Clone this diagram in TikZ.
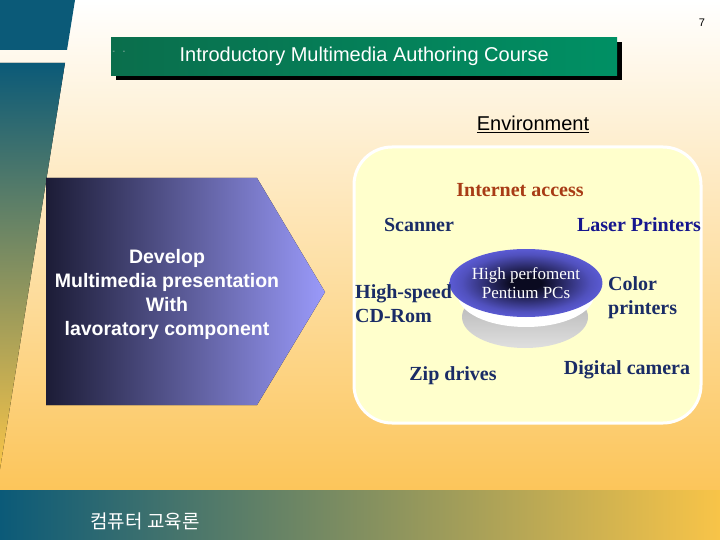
\documentclass[tikz,border=0pt]{standalone}
\usepackage{fontspec}
\setmainfont{Liberation Serif}
\setsansfont{Liberation Sans}
\newfontfamily\krfont{Noto Sans CJK KR}
\usepackage{tikz}
\usetikzlibrary{positioning,shapes.geometric}
\definecolor{tealdark}{HTML}{0B5A78}
\definecolor{goldbar}{HTML}{F8C448}
\definecolor{tanmid}{HTML}{A89A76}
\definecolor{stripmid}{HTML}{8A7D68}
\definecolor{peachbg}{HTML}{FDEAD6}
\definecolor{orangebg}{HTML}{FCC55A}
\definecolor{titlegreen}{HTML}{009064}
\definecolor{titlegreendk}{HTML}{0A6E4C}
\definecolor{panelyellow}{HTML}{FFFFCC}
\definecolor{navytext}{HTML}{1A2C66}
\definecolor{bluetext}{HTML}{16168E}
\definecolor{rusttext}{HTML}{A83C16}
\definecolor{arrowdark}{HTML}{1C1C36}
\definecolor{arrowlight}{HTML}{9A9AFA}
\definecolor{diskblue}{HTML}{6262E4}
\definecolor{diskdark}{HTML}{0A0A20}
\pgfdeclareradialshading{diskglow}{\pgfpoint{0bp}{0bp}}{color(0bp)=(diskdark); color(5bp)=(diskdark); color(13bp)=(diskblue!40!diskdark); color(21bp)=(diskblue!80!diskdark); color(28bp)=(diskblue); color(50bp)=(diskblue)}

\begin{document}
\begin{tikzpicture}[x=1pt, y=-1pt, every node/.style={inner sep=0pt, align=center},
  hwlabel/.style={font=\bfseries\fontsize{20}{24}\selectfont, text=navytext},
  titlebar/.style={left color=titlegreendk, right color=titlegreen, text=white, font=\sffamily\fontsize{20}{24}\selectfont},
  panelbox/.style={draw=white, line width=3pt, fill=panelyellow, rounded corners=38pt},
  pitchtext/.style={text=white, font=\sffamily\bfseries\fontsize{19.5}{24}\selectfont}]
  \useasboundingbox (0,0) rectangle (720,540);
  % background and side bars
  \fill[top color=white, middle color=peachbg, bottom color=orangebg] (0,0) rectangle (720,490);
  \fill[left color=tealdark, middle color=tanmid, right color=goldbar] (0,490) rectangle (720,540);
  \fill[tealdark] (0,0) -- (75,0) -- (67,50) -- (0,50) -- cycle;
  \fill[top color=tealdark, middle color=stripmid, bottom color=goldbar] (0,63) -- (65,63) -- (0,469) -- cycle;
  % title
  \fill[black] (116,42) rectangle (622,80);
  \node[titlebar, minimum width=506pt, minimum height=38pt, anchor=north west] (title) at (111,37) {Introductory Multimedia Authoring Course};
  \node[font=\sffamily\fontsize{7}{8}\selectfont, text=gray!40] (marks) at (119,52) {-\hspace{8pt}-};
  \node[font=\sffamily\fontsize{11}{12}\selectfont] (pagenum) at (702,23) {7};
  % environment panel
  \node[font=\sffamily\fontsize{20}{24}\selectfont, anchor=base] (env) at (533,131) {\underline{Environment}};
  \node[panelbox, minimum width=347pt, minimum height=276pt] (envpanel) at (527.5,285) {};
  \node[ellipse, top color=gray!65, middle color=gray!65, bottom color=gray!25, minimum width=126pt, minimum height=62pt] (diskbase) at (525,317) {};
  \node[ellipse, fill=white, minimum width=136pt, minimum height=64pt] (diskrim) at (526,295) {};
  \node[ellipse, shading=diskglow, minimum width=142pt, minimum height=68pt, text=white, font=\fontsize{17}{19}\selectfont] (disk) at (526,283) {High perfoment\\Pentium PCs};
  \node[hwlabel, text=rusttext] (internet) at (520,190) {Internet access};
  \node[hwlabel] (scanner) at (419,225) {Scanner};
  \node[hwlabel, text=bluetext] (laser) at (639,225) {Laser Printers};
  \node[hwlabel, align=left, anchor=west] (cdrom) at (355,304) {High-speed\\CD-Rom};
  \node[hwlabel, align=left, anchor=west] (color) at (608,298) {Color\\printers};
  \node[hwlabel] (zip) at (453,376) {Zip drives};
  \node[hwlabel] (camera) at (627,370) {Digital camera};
  % goal arrow
  \fill[left color=arrowdark, right color=arrowlight] (46,178) -- (257,178) -- (325,292) -- (257,405) -- (46,405) -- cycle;
  \node[pitchtext] (goal) at (167,294) {Develop\\Multimedia presentation\\With\\lavoratory component};
  % footer
  \node[text=white, font=\krfont\fontsize{19}{22}\selectfont] (coursename) at (145,521) {컴퓨터 교육론};
\end{tikzpicture}
\end{document}
